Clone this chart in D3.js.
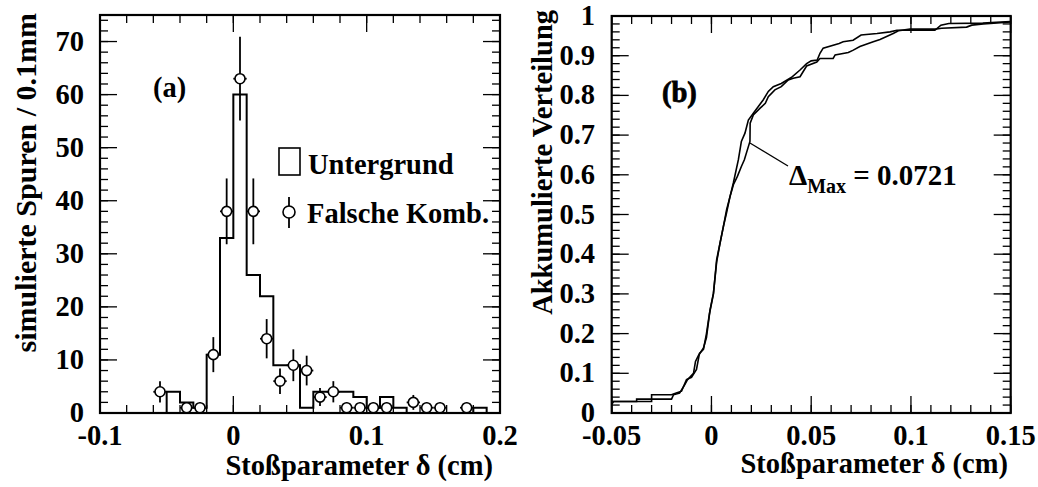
<!DOCTYPE html>
<html><head><meta charset="utf-8">
<script src="https://cdn.jsdelivr.net/npm/d3@7"></script>
<style>
body{margin:0;background:#fff}
text{font-family:"Liberation Serif","Times New Roman",serif;font-weight:bold;fill:#000}
</style>
</head><body><svg id="c" width="1038" height="487"></svg>
<script>
// ---------- Data: panel (a) ----------
const binStart = [-0.10,-0.09,-0.08,-0.07,-0.06,-0.05,-0.04,-0.03,-0.02,-0.01,
                   0.00, 0.01, 0.02, 0.03, 0.04, 0.05, 0.06, 0.07, 0.08, 0.09,
                   0.10, 0.11, 0.12, 0.13, 0.14, 0.15, 0.16, 0.17, 0.18, 0.19];
const binWidth = 0.01;
const untergrund = [0,0,0,0,0,4,2,1,11,33,60,26,22,9,9,1,4,4,4,3,1,3,1,0,0,0,0,0,1,0];
const kombX = [-0.055,-0.035,-0.025,-0.015,-0.005,0.005,0.015,0.025,0.035,0.045,0.055,
               0.065,0.075,0.085,0.095,0.105,0.115,0.135,0.145,0.155,0.175];
const kombY = [4,1,1,11,38,63,38,14,6,9,8,3,4,1,1,1,1,2,1,1,1];
const kombErr = [2,1,1,3.3,6.2,7.9,6.2,3.7,2.4,3,2.8,1.7,2,1,1,1,1,1.4,1,1,1];
const xTicksA = [-0.1,0,0.1,0.2];
const yTicksA = [0,10,20,30,40,50,60,70];
const legendLabels = ["Untergrund","Falsche Komb."];

// ---------- Data: panel (b) ----------
const cumA = [[-0.05,0.029],[-0.03,0.029],[-0.03,0.046],[-0.02,0.046],[-0.018,0.05],[-0.015,0.055],
  [-0.0125,0.084],[-0.01,0.09],[-0.0075,0.11],[-0.006,0.15],[-0.004,0.16],[-0.0025,0.2],[-0.001,0.25],
  [0.001,0.30],[0.0026,0.386],[0.0043,0.428],[0.006,0.47],[0.0076,0.512],[0.0093,0.545],[0.011,0.58],
  [0.0135,0.638],[0.015,0.684],[0.0168,0.705],[0.0185,0.738],[0.021,0.755],[0.0235,0.772],[0.026,0.789],
  [0.0285,0.81],[0.031,0.822],[0.035,0.83],[0.04,0.845],[0.0444,0.864],[0.0477,0.88],[0.05,0.887],
  [0.053,0.889],[0.0544,0.906],[0.056,0.919],[0.064,0.931],[0.066,0.935],[0.071,0.939],[0.075,0.952],
  [0.083,0.956],[0.0895,0.96],[0.093,0.964],[0.112,0.964],[0.115,0.977],[0.119,0.981],[0.136,0.982],
  [0.145,0.985],[0.15,0.986]];
const cumB = [[-0.05,0.022],[-0.049,0.029],[-0.0375,0.029],[-0.0375,0.035],[-0.02,0.035],[-0.019,0.046],
  [-0.016,0.05],[-0.0135,0.07],[-0.012,0.084],[-0.009,0.1],[-0.008,0.13],[-0.0065,0.145],[-0.004,0.164],
  [-0.0025,0.19],[-0.0007,0.26],[0.001,0.302],[0.0026,0.38],[0.0043,0.428],[0.006,0.47],[0.0076,0.505],
  [0.0093,0.545],[0.011,0.575],[0.013,0.596],[0.015,0.621],[0.0165,0.638],[0.0185,0.671],[0.0193,0.684],
  [0.0194,0.73],[0.021,0.751],[0.0244,0.768],[0.027,0.78],[0.0285,0.797],[0.0318,0.814],[0.035,0.822],
  [0.0385,0.839],[0.041,0.843],[0.0444,0.847],[0.0477,0.874],[0.0528,0.884],[0.0544,0.893],[0.061,0.893],
  [0.062,0.902],[0.0686,0.908],[0.0711,0.914],[0.0744,0.923],[0.0811,0.935],[0.0845,0.941],[0.0911,0.956],
  [0.0937,0.963],[0.0995,0.967],[0.1121,0.967],[0.1154,0.969],[0.1279,0.972],[0.1305,0.977],[0.1363,0.98],
  [0.145,0.983],[0.15,0.985]];
const xTicksB = [-0.05,0,0.05,0.1,0.15];
const yTicksB = [0,0.1,0.2,0.3,0.4,0.5,0.6,0.7,0.8,0.9,1];
const deltaMax = "0.0721";

// ---------- Layout ----------
const svg = d3.select("#c");
const topY = 15, bottomY = 413;
const FS = 28.5;

function frame(g, x, y, xMinor, yMinor, xMajor, yMajor){
  const [X0,X1] = x.range(), [Y1,Y0] = y.range();
  const big = 17, small = 8;
  const tk = g.append("g").attr("stroke","#000").attr("stroke-width",1.3);
  xMinor.forEach(v=>{const p=x(v);
    tk.append("line").attr("x1",p).attr("x2",p).attr("y1",Y1).attr("y2",Y1-small);
    tk.append("line").attr("x1",p).attr("x2",p).attr("y1",Y0).attr("y2",Y0+small);});
  xMajor.forEach(v=>{const p=x(v);
    tk.append("line").attr("x1",p).attr("x2",p).attr("y1",Y1).attr("y2",Y1-big);
    tk.append("line").attr("x1",p).attr("x2",p).attr("y1",Y0).attr("y2",Y0+big);});
  yMinor.forEach(v=>{const p=y(v);
    tk.append("line").attr("y1",p).attr("y2",p).attr("x1",X0).attr("x2",X0+small);
    tk.append("line").attr("y1",p).attr("y2",p).attr("x1",X1).attr("x2",X1-small);});
  yMajor.forEach(v=>{const p=y(v);
    tk.append("line").attr("y1",p).attr("y2",p).attr("x1",X0).attr("x2",X0+big);
    tk.append("line").attr("y1",p).attr("y2",p).attr("x1",X1).attr("x2",X1-big);});
  g.append("rect").attr("x",X0).attr("y",Y0).attr("width",X1-X0).attr("height",Y1-Y0)
    .attr("fill","none").attr("stroke","#000").attr("stroke-width",2.2);
}

// ---------- Panel (a) ----------
const xa = d3.scaleLinear().domain([-0.1,0.2]).range([100,500]);
const ya = d3.scaleLinear().domain([0,75]).range([bottomY,topY]);
const ga = svg.append("g");

const histPts = [];
histPts.push([xa(binStart[0]), ya(0)]);
binStart.forEach((b,i)=>{
  histPts.push([xa(b), ya(untergrund[i])]);
  histPts.push([xa(b+binWidth), ya(untergrund[i])]);
});
histPts.push([xa(binStart[binStart.length-1]+binWidth), ya(0)]);
ga.append("path").attr("d", d3.line()(histPts)).attr("fill","none")
  .attr("stroke","#000").attr("stroke-width",2);

const pg = ga.append("g");
kombX.forEach((v,i)=>{
  const cx = xa(v), cy = ya(kombY[i]);
  pg.append("line").attr("x1",cx).attr("x2",cx).attr("y1",ya(kombY[i]-kombErr[i])).attr("y2",ya(kombY[i]+kombErr[i]))
    .attr("stroke","#000").attr("stroke-width",1.8);
  pg.append("line").attr("x1",xa(v-binWidth/2)).attr("x2",xa(v+binWidth/2)).attr("y1",cy).attr("y2",cy)
    .attr("stroke","#000").attr("stroke-width",1.8);
});
kombX.forEach((v,i)=>{
  pg.append("circle").attr("cx",xa(v)).attr("cy",ya(kombY[i])).attr("r",5)
    .attr("fill","#fff").attr("stroke","#000").attr("stroke-width",1.6);
});

frame(ga, xa, ya, d3.range(-0.1,0.2001,0.02), d3.range(0,75.1,2), xTicksA, yTicksA);

ga.selectAll(".xl").data(xTicksA).join("text").attr("x",d=>xa(d)).attr("y",445)
  .attr("text-anchor","middle").attr("font-size",FS).text(d=>String(d));
ga.selectAll(".yl").data(yTicksA).join("text").attr("x",84).attr("y",d=>ya(d)+9)
  .attr("text-anchor","end").attr("font-size",FS).text(d=>d);
ga.append("text").attr("x",493).attr("y",475).attr("text-anchor","end").attr("font-size",FS)
  .text("Stoßparameter δ (cm)");
ga.append("text").attr("transform","translate(36,13) rotate(-90)").attr("text-anchor","end")
  .attr("font-size",30).text("simulierte Spuren / 0.1mm");
ga.append("text").attr("x",153).attr("y",97).attr("font-size",FS).text("(a)");

ga.append("rect").attr("x",279).attr("y",148).attr("width",21).attr("height",27)
  .attr("fill","#fff").attr("stroke","#000").attr("stroke-width",1.6);
ga.append("text").attr("x",308).attr("y",174).attr("font-size",FS).text(legendLabels[0]);
ga.append("line").attr("x1",289).attr("x2",289).attr("y1",197).attr("y2",228)
  .attr("stroke","#000").attr("stroke-width",1.8);
ga.append("circle").attr("cx",289).attr("cy",212).attr("r",6)
  .attr("fill","#fff").attr("stroke","#000").attr("stroke-width",1.6);
ga.append("text").attr("x",307).attr("y",223).attr("font-size",FS).text(legendLabels[1]);

// ---------- Panel (b) ----------
const xb = d3.scaleLinear().domain([-0.05,0.15]).range([611.7,1010.7]);
const yb = d3.scaleLinear().domain([0,1]).range([bottomY,16]);
const gb = svg.append("g");
const lineB = d3.line().x(d=>xb(d[0])).y(d=>yb(d[1]));
gb.append("path").attr("d",lineB(cumA)).attr("fill","none").attr("stroke","#000").attr("stroke-width",1.6);
gb.append("path").attr("d",lineB(cumB)).attr("fill","none").attr("stroke","#000").attr("stroke-width",1.6);

frame(gb, xb, yb, d3.range(-0.05,0.1501,0.01), d3.range(0,1.001,0.02), xTicksB, yTicksB);

gb.selectAll(".xl").data(xTicksB).join("text").attr("x",d=>xb(d)).attr("y",445)
  .attr("text-anchor","middle").attr("font-size",FS).text(d=>String(d));
gb.selectAll(".yl").data(yTicksB).join("text").attr("x",595).attr("y",d=>yb(d)+9)
  .attr("text-anchor","end").attr("font-size",FS).text(d=>String(d));
gb.append("text").attr("x",1008).attr("y",473).attr("text-anchor","end").attr("font-size",FS)
  .text("Stoßparameter δ (cm)");
gb.append("text").attr("transform","translate(552,10) rotate(-90)").attr("text-anchor","end")
  .attr("font-size",FS).text("Akkumulierte Verteilung");
gb.append("text").attr("x",662).attr("y",102).attr("font-size",FS)
  .attr("stroke","#000").attr("stroke-width",0.8).text("(b)");

gb.append("line").attr("x1",xb(0.0193)).attr("y1",yb(0.68)).attr("x2",788).attr("y2",166)
  .attr("stroke","#000").attr("stroke-width",1.3);
const dt = gb.append("text").attr("x",789).attr("y",185).attr("font-size",29);
dt.append("tspan").text("Δ");
dt.append("tspan").attr("font-size",20).attr("dy",8).text("Max");
dt.append("tspan").attr("dy",-8).text(" = " + deltaMax);
</script>
</body></html>
